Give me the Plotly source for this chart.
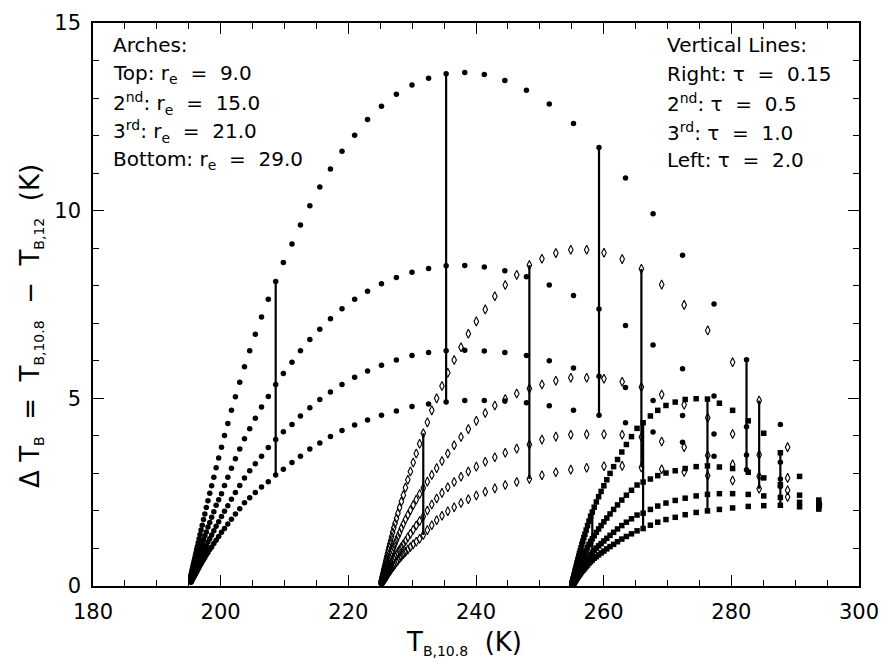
import plotly.graph_objects as go

# ---------------- data ----------------
# Each group = one cloud temperature; the four arches share the same
# T_B,10.8 grid (one point per optical depth), listed from thin to thick cloud.
T_G1 = [293.70, 287.68, 282.38, 277.29, 272.36, 267.74, 263.42, 259.27, 255.27, 251.48,
        247.90, 244.52, 241.30, 238.24, 235.32, 232.57, 229.97, 227.53, 225.19, 223.01,
        220.99, 219.01, 217.20, 215.53, 213.97, 212.50, 211.17, 209.82, 208.62, 207.46,
        206.40, 205.43, 204.55, 203.73, 202.99, 202.31, 201.69, 201.12, 200.60, 200.13,
        199.69, 199.29, 198.93, 198.59, 198.29, 198.01, 197.75, 197.52, 197.31, 197.11,
        196.93, 196.77, 196.62, 196.48, 196.35, 196.24, 196.13, 196.04, 195.95, 195.87,
        195.79, 195.72, 195.66, 195.61, 195.55, 195.51, 195.46, 195.42, 195.39, 195.36,
        195.33]
DT_G1_RE9 = [2.19, 4.30, 6.03, 7.51, 8.81, 9.92, 10.87, 11.68, 12.32, 12.84,
             13.21, 13.47, 13.63, 13.68, 13.65, 13.53, 13.35, 13.10, 12.78, 12.43,
             12.01, 11.58, 11.11, 10.63, 10.13, 9.62, 9.11, 8.62, 8.11, 7.64,
             7.17, 6.71, 6.27, 5.84, 5.43, 5.04, 4.68, 4.33, 4.01, 3.70,
             3.41, 3.15, 2.90, 2.67, 2.47, 2.27, 2.09, 1.92, 1.77, 1.62,
             1.49, 1.37, 1.26, 1.15, 1.05, 0.97, 0.88, 0.81, 0.74, 0.68,
             0.62, 0.57, 0.52, 0.47, 0.43, 0.40, 0.36, 0.33, 0.30, 0.28,
             0.26]
DT_G1_RE15 = [2.15, 3.30, 4.24, 5.06, 5.79, 6.42, 6.94, 7.38, 7.74, 8.02,
              8.24, 8.40, 8.50, 8.54, 8.53, 8.46, 8.36, 8.22, 8.05, 7.85,
              7.64, 7.39, 7.12, 6.84, 6.57, 6.27, 5.96, 5.66, 5.37, 5.05,
              4.77, 4.47, 4.19, 3.92, 3.65, 3.39, 3.14, 2.90, 2.68, 2.46,
              2.30, 2.15, 1.98, 1.83, 1.69, 1.57, 1.44, 1.34, 1.23, 1.13,
              1.04, 0.96, 0.88, 0.81, 0.74, 0.68, 0.62, 0.57, 0.52, 0.48,
              0.43, 0.40, 0.36, 0.33, 0.30, 0.28, 0.25, 0.23, 0.21, 0.20,
              0.18]
DT_G1_RE21 = [2.12, 2.85, 3.49, 4.05, 4.54, 4.94, 5.29, 5.59, 5.81, 6.00,
              6.14, 6.22, 6.26, 6.28, 6.27, 6.22, 6.14, 6.02, 5.88, 5.73,
              5.56, 5.37, 5.17, 4.97, 4.75, 4.53, 4.30, 4.11, 3.90, 3.69,
              3.46, 3.26, 3.07, 2.88, 2.68, 2.49, 2.31, 2.14, 1.99, 1.85,
              1.71, 1.59, 1.47, 1.36, 1.26, 1.17, 1.07, 0.99, 0.91, 0.84,
              0.77, 0.71, 0.65, 0.60, 0.55, 0.50, 0.46, 0.42, 0.39, 0.36,
              0.33, 0.30, 0.28, 0.25, 0.23, 0.21, 0.20, 0.18, 0.16, 0.15,
              0.14]
DT_G1_RE29 = [2.08, 2.65, 3.10, 3.46, 3.83, 4.10, 4.35, 4.55, 4.68, 4.80,
              4.88, 4.93, 4.94, 4.94, 4.90, 4.85, 4.78, 4.66, 4.55, 4.42,
              4.29, 4.14, 3.98, 3.81, 3.65, 3.46, 3.29, 3.11, 2.96, 2.78,
              2.64, 2.49, 2.35, 2.22, 2.06, 1.92, 1.78, 1.65, 1.53, 1.43,
              1.32, 1.22, 1.13, 1.04, 0.97, 0.89, 0.83, 0.76, 0.70, 0.65,
              0.59, 0.55, 0.50, 0.46, 0.42, 0.38, 0.35, 0.32, 0.29, 0.27,
              0.25, 0.23, 0.21, 0.19, 0.17, 0.16, 0.15, 0.13, 0.12, 0.11,
              0.10]

T_G2 = [293.80, 288.82, 284.36, 280.20, 276.30, 272.61, 269.09, 265.91, 262.90, 260.05,
        257.34, 254.85, 252.51, 250.33, 248.36, 246.38, 244.58, 242.95, 241.45, 240.05,
        238.80, 237.65, 236.58, 235.58, 234.67, 233.84, 233.07, 232.38, 231.74, 231.17,
        230.64, 230.16, 229.72, 229.32, 228.95, 228.62, 228.31, 228.03, 227.77, 227.54,
        227.32, 227.12, 226.94, 226.78, 226.63, 226.49, 226.36, 226.25, 226.14, 226.04,
        225.95, 225.87, 225.80, 225.73, 225.67, 225.61, 225.56, 225.51, 225.47, 225.43,
        225.39, 225.36, 225.33, 225.30, 225.28, 225.25, 225.23, 225.21, 225.19, 225.18,
        225.16]
DT_G2_RE9 = [2.20, 3.70, 4.94, 5.96, 6.81, 7.49, 8.03, 8.45, 8.71, 8.88,
             8.96, 8.96, 8.87, 8.72, 8.55, 8.29, 8.02, 7.72, 7.37, 7.05,
             6.72, 6.36, 6.02, 5.68, 5.33, 5.00, 4.68, 4.36, 4.07, 3.79,
             3.53, 3.29, 3.05, 2.83, 2.62, 2.42, 2.25, 2.09, 1.94, 1.80,
             1.67, 1.55, 1.43, 1.32, 1.21, 1.12, 1.03, 0.95, 0.87, 0.80,
             0.73, 0.67, 0.62, 0.56, 0.52, 0.47, 0.43, 0.40, 0.36, 0.33,
             0.30, 0.28, 0.26, 0.23, 0.21, 0.20, 0.18, 0.16, 0.15, 0.14,
             0.13]
DT_G2_RE15 = [2.18, 2.88, 3.50, 4.05, 4.48, 4.83, 5.10, 5.30, 5.44, 5.52,
              5.55, 5.55, 5.47, 5.37, 5.26, 5.13, 4.98, 4.81, 4.61, 4.40,
              4.18, 3.97, 3.75, 3.53, 3.33, 3.14, 2.96, 2.78, 2.61, 2.45,
              2.30, 2.16, 2.02, 1.89, 1.77, 1.65, 1.54, 1.42, 1.32, 1.22,
              1.13, 1.04, 0.96, 0.89, 0.82, 0.75, 0.69, 0.63, 0.58, 0.53,
              0.49, 0.45, 0.41, 0.38, 0.35, 0.32, 0.29, 0.27, 0.25, 0.23,
              0.21, 0.19, 0.18, 0.16, 0.15, 0.14, 0.13, 0.12, 0.11, 0.10,
              0.09]
DT_G2_RE21 = [2.16, 2.55, 2.92, 3.24, 3.48, 3.70, 3.85, 3.97, 4.03, 4.04,
              4.04, 4.03, 3.98, 3.90, 3.77, 3.66, 3.55, 3.43, 3.31, 3.18,
              3.05, 2.91, 2.77, 2.63, 2.48, 2.33, 2.17, 2.01, 1.85, 1.73,
              1.61, 1.50, 1.39, 1.30, 1.20, 1.12, 1.04, 0.97, 0.90, 0.84,
              0.77, 0.71, 0.66, 0.61, 0.56, 0.52, 0.47, 0.43, 0.40, 0.36,
              0.33, 0.30, 0.28, 0.26, 0.23, 0.21, 0.20, 0.18, 0.16, 0.15,
              0.14, 0.13, 0.12, 0.11, 0.10, 0.09, 0.08, 0.08, 0.07, 0.07,
              0.06]
DT_G2_RE29 = [2.12, 2.37, 2.59, 2.81, 2.94, 3.04, 3.11, 3.16, 3.20, 3.19,
              3.15, 3.10, 3.03, 2.95, 2.85, 2.77, 2.69, 2.60, 2.51, 2.41,
              2.31, 2.21, 2.10, 1.99, 1.87, 1.75, 1.62, 1.49, 1.36, 1.26,
              1.18, 1.11, 1.04, 0.97, 0.91, 0.85, 0.79, 0.74, 0.68, 0.64,
              0.58, 0.54, 0.50, 0.46, 0.42, 0.39, 0.36, 0.33, 0.30, 0.27,
              0.25, 0.23, 0.21, 0.19, 0.18, 0.16, 0.15, 0.14, 0.13, 0.12,
              0.11, 0.10, 0.09, 0.08, 0.08, 0.07, 0.06, 0.06, 0.05, 0.05,
              0.05]

T_G3 = [293.70, 290.69, 287.68, 285.08, 282.65, 280.20, 278.13, 276.26, 274.49, 272.77,
        271.21, 269.76, 268.47, 267.32, 266.18, 265.23, 264.36, 263.56, 262.84, 262.17,
        261.56, 261.00, 260.49, 260.03, 259.60, 259.21, 258.85, 258.52, 258.22, 257.95,
        257.70, 257.47, 257.26, 257.06, 256.89, 256.73, 256.58, 256.45, 256.32, 256.21,
        256.11, 256.01, 255.93, 255.85, 255.78, 255.71, 255.65, 255.59, 255.54, 255.50,
        255.46, 255.42, 255.38, 255.35, 255.32, 255.29, 255.27, 255.25, 255.23, 255.21,
        255.19, 255.17, 255.16, 255.14, 255.13, 255.12, 255.11, 255.10, 255.09, 255.09,
        255.08]
DT_G3_RE9 = [2.29, 2.92, 3.55, 4.07, 4.40, 4.68, 4.87, 4.98, 4.99, 4.97,
             4.90, 4.81, 4.68, 4.53, 4.35, 4.20, 3.98, 3.77, 3.57, 3.37,
             3.18, 3.00, 2.83, 2.67, 2.52, 2.38, 2.24, 2.10, 1.97, 1.86,
             1.73, 1.61, 1.49, 1.38, 1.29, 1.19, 1.11, 1.02, 0.94, 0.87,
             0.80, 0.73, 0.68, 0.62, 0.58, 0.53, 0.48, 0.44, 0.40, 0.37,
             0.34, 0.31, 0.29, 0.26, 0.24, 0.22, 0.20, 0.19, 0.17, 0.16,
             0.14, 0.13, 0.12, 0.11, 0.10, 0.09, 0.08, 0.08, 0.07, 0.07,
             0.06]
DT_G3_RE15 = [2.20, 2.42, 2.70, 2.88, 3.03, 3.13, 3.17, 3.20, 3.18, 3.13,
              3.07, 3.01, 2.94, 2.85, 2.77, 2.69, 2.55, 2.42, 2.29, 2.16,
              2.04, 1.92, 1.81, 1.71, 1.61, 1.52, 1.43, 1.34, 1.26, 1.19,
              1.11, 1.03, 0.95, 0.88, 0.83, 0.76, 0.71, 0.65, 0.60, 0.56,
              0.51, 0.47, 0.44, 0.40, 0.37, 0.34, 0.31, 0.28, 0.26, 0.24,
              0.22, 0.20, 0.19, 0.17, 0.15, 0.14, 0.13, 0.12, 0.11, 0.10,
              0.09, 0.08, 0.08, 0.07, 0.06, 0.06, 0.05, 0.05, 0.04, 0.04,
              0.04]
DT_G3_RE21 = [2.15, 2.23, 2.36, 2.40, 2.44, 2.46, 2.46, 2.44, 2.40, 2.34,
              2.28, 2.21, 2.13, 2.04, 1.94, 1.89, 1.79, 1.70, 1.61, 1.52,
              1.43, 1.35, 1.27, 1.20, 1.13, 1.07, 1.01, 0.95, 0.89, 0.84,
              0.78, 0.72, 0.67, 0.62, 0.58, 0.54, 0.50, 0.46, 0.42, 0.39,
              0.36, 0.33, 0.31, 0.28, 0.26, 0.24, 0.22, 0.20, 0.18, 0.17,
              0.15, 0.14, 0.13, 0.12, 0.11, 0.10, 0.09, 0.09, 0.08, 0.07,
              0.06, 0.06, 0.05, 0.05, 0.05, 0.04, 0.04, 0.04, 0.03, 0.03,
              0.03]
DT_G3_RE29 = [2.05, 2.11, 2.15, 2.14, 2.12, 2.08, 2.04, 2.00, 1.96, 1.90,
              1.83, 1.77, 1.70, 1.62, 1.53, 1.47, 1.39, 1.32, 1.25, 1.18,
              1.11, 1.05, 0.99, 0.93, 0.88, 0.83, 0.78, 0.74, 0.69, 0.65,
              0.61, 0.56, 0.52, 0.48, 0.45, 0.42, 0.39, 0.36, 0.33, 0.30,
              0.28, 0.26, 0.24, 0.22, 0.20, 0.19, 0.17, 0.15, 0.14, 0.13,
              0.12, 0.11, 0.10, 0.09, 0.08, 0.08, 0.07, 0.07, 0.06, 0.06,
              0.05, 0.05, 0.04, 0.04, 0.04, 0.03, 0.03, 0.03, 0.02, 0.02,
              0.02]

# optical depths marked by vertical lines, and their position in the tau grid
TAU_VALUES = [0.15, 0.5, 1.0, 2.0]
TAU_INDEX = [2, 7, 14, 28]

X_TICKS = [180, 200, 220, 240, 260, 280, 300]
Y_TICKS = [0, 5, 10, 15]

GROUPS = [
    dict(T=T_G1, arches=[DT_G1_RE9, DT_G1_RE15, DT_G1_RE21, DT_G1_RE29],
         marker=dict(symbol="circle", size=5.5, color="black")),
    dict(T=T_G2, arches=[DT_G2_RE9, DT_G2_RE15, DT_G2_RE21, DT_G2_RE29],
         marker=dict(symbol="diamond-tall-open", size=6.5, color="black",
                     line=dict(width=1.1, color="black"))),
    dict(T=T_G3, arches=[DT_G3_RE9, DT_G3_RE15, DT_G3_RE21, DT_G3_RE29],
         marker=dict(symbol="square", size=5.5, color="black")),
]

fig = go.Figure()

# vertical lines joining the four arches at a fixed optical depth
for g in GROUPS:
    for idx in TAU_INDEX:
        ys = [a[idx] for a in g["arches"]]
        fig.add_trace(go.Scatter(x=[g["T"][idx], g["T"][idx]], y=[min(ys), max(ys)],
                                 mode="lines", line=dict(color="black", width=2.2),
                                 hoverinfo="skip"))

# arches
for g in GROUPS:
    for a in g["arches"]:
        fig.add_trace(go.Scatter(x=g["T"], y=a, mode="markers", marker=g["marker"]))

FONT = "DejaVu Sans"
axis_common = dict(
    showline=True, linecolor="black", linewidth=1.5, mirror="allticks",
    ticks="inside", tickcolor="black", tickwidth=1.3, ticklen=11,
    showgrid=False, zeroline=False,
    tickfont=dict(family=FONT, size=21, color="black"),
)
fig.update_xaxes(range=[180, 300], tickmode="array", tickvals=X_TICKS,
                 ticktext=[str(v) for v in X_TICKS],
                 minor=dict(dtick=5, tick0=180, ticks="inside", ticklen=6,
                            tickwidth=1.1, tickcolor="black", showgrid=False),
                 ticklabelstandoff=6, **axis_common)
fig.update_yaxes(range=[0, 15], tickmode="array", tickvals=Y_TICKS,
                 ticktext=[str(v) for v in Y_TICKS],
                 minor=dict(dtick=1, tick0=0, ticks="inside", ticklen=6,
                            tickwidth=1.1, tickcolor="black", showgrid=False),
                 ticklabelstandoff=6, **axis_common)

NB = "\u00a0"
SUBF = "<span style='font-size:14px'>%s</span>"
left_lines = [
    "Arches:",
    f"Top:{NB}r<sub>e</sub>{NB}{NB}={NB}{NB}9.0",
    f"2<sup>nd</sup>:{NB}r<sub>e</sub>{NB}{NB}={NB}{NB}15.0",
    f"3<sup>rd</sup>:{NB}r<sub>e</sub>{NB}{NB}={NB}{NB}21.0",
    f"Bottom:{NB}r<sub>e</sub>{NB}{NB}={NB}{NB}29.0",
]
right_lines = [
    "Vertical Lines:",
    f"Right:{NB}\u03c4{NB}{NB}={NB}{NB}0.15",
    f"2<sup>nd</sup>:{NB}\u03c4{NB}{NB}={NB}{NB}0.5",
    f"3<sup>rd</sup>:{NB}\u03c4{NB}{NB}={NB}{NB}1.0",
    f"Left:{NB}\u03c4{NB}{NB}={NB}{NB}2.0",
]
PLOT_L, PLOT_R, PLOT_T, PLOT_B = 93, 863, 11, 586
def px2paper(px, py):
    return (px - PLOT_L) / (PLOT_R - PLOT_L), (PLOT_B - py) / (PLOT_B - PLOT_T)

row_y = [33, 63, 93, 122, 151]
annotations = []
for i, t in enumerate(left_lines):
    x, y = px2paper(111, row_y[i])
    annotations.append(dict(text=t, x=x, y=y, xref="paper", yref="paper",
                            xanchor="left", yanchor="middle", showarrow=False,
                            font=dict(family=FONT, size=20, color="black")))
for i, t in enumerate(right_lines):
    x, y = px2paper(668, row_y[i])
    annotations.append(dict(text=t, x=x, y=y, xref="paper", yref="paper",
                            xanchor="left", yanchor="middle", showarrow=False,
                            font=dict(family=FONT, size=20, color="black")))

xt_x, xt_y = px2paper(466, 644)
annotations.append(dict(
    text=f"T<sub>{SUBF % 'B,10.8'}</sub>{NB}{NB}(K)",
    x=xt_x, y=xt_y, xref="paper", yref="paper", xanchor="center", yanchor="middle",
    showarrow=False, font=dict(family=FONT, size=26, color="black")))
yt_x, yt_y = px2paper(30, 320)
annotations.append(dict(
    text=(f"\u0394{NB}T<sub>{SUBF % 'B'}</sub>{NB}{NB}={NB}{NB}T<sub>{SUBF % 'B,10.8'}</sub>"
          f"{NB}{NB}\u2212{NB}{NB}T<sub>{SUBF % 'B,12'}</sub>{NB}{NB}(K)"),
    x=yt_x, y=yt_y, xref="paper", yref="paper", xanchor="center", yanchor="middle",
    textangle=-90, showarrow=False, font=dict(family=FONT, size=26, color="black")))

fig.update_layout(
    width=890, height=670,
    margin=dict(l=PLOT_L, r=890 - PLOT_R, t=PLOT_T, b=670 - PLOT_B),
    paper_bgcolor="white", plot_bgcolor="white",
    showlegend=False, annotations=annotations,
    font=dict(family=FONT, color="black"),
)

fig.write_html("out.html")
